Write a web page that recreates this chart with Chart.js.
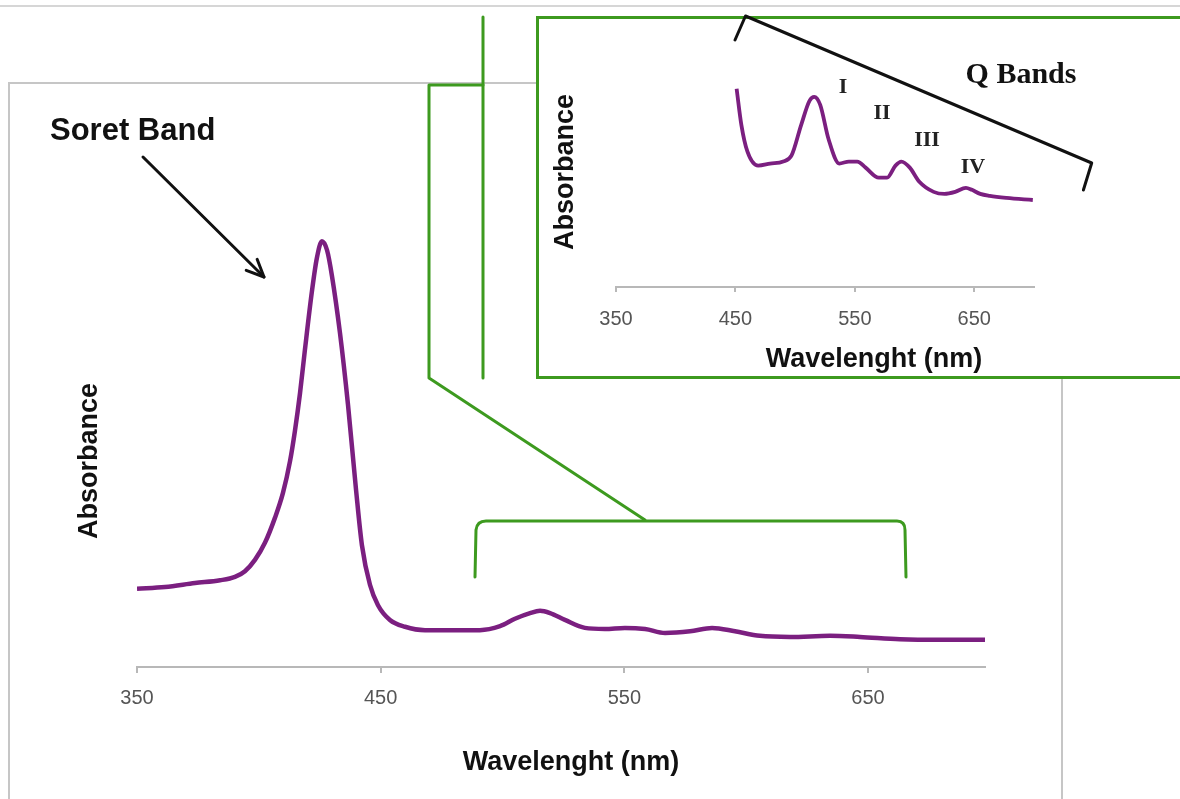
<!DOCTYPE html>
<html>
<head>
<meta charset="utf-8">
<script src="https://cdn.jsdelivr.net/npm/chart.js@4/dist/chart.umd.min.js"></script>
<style>
  html, body { margin: 0; padding: 0; background: #fff; overflow: hidden; }
  #wrap { position: relative; width: 1180px; height: 799px; }
  #main_chart { position: absolute; left: 0; top: 0; }
  #inset_chart { position: absolute; left: 530px; top: 6px; }
</style>
</head>
<body>
<div id="wrap">
  <canvas id="main_chart" width="1180" height="799"></canvas>
  <canvas id="inset_chart" width="650" height="384"></canvas>
</div>
<script>
// full spectrum (nm / absorbance)
const mainWavelength = [350, 361.5, 373.8, 384.1, 390.2, 394.3, 398.4, 402.5, 406.6, 409.9, 412.8, 414.8, 416.9, 418.9, 421.8, 423.8, 425.9, 428.0, 430.0, 433.3, 436.6, 439.9, 442.3, 445.6, 448.9, 453.8, 460, 468.2, 478.4, 490.7, 499, 505.1, 511.3, 515.4, 519.5, 525.6, 533.8, 542, 550.2, 558.5, 566.7, 577, 586, 595.4, 605.6, 618, 634.4, 646.7, 663.1, 679.5, 698];
const mainAbsorbance = [0.138, 0.141, 0.148, 0.153, 0.159, 0.169, 0.189, 0.219, 0.263, 0.307, 0.363, 0.416, 0.483, 0.559, 0.663, 0.721, 0.751, 0.735, 0.690, 0.589, 0.462, 0.312, 0.215, 0.145, 0.109, 0.083, 0.071, 0.065, 0.065, 0.065, 0.072, 0.085, 0.095, 0.099, 0.095, 0.083, 0.069, 0.067, 0.069, 0.067, 0.060, 0.063, 0.069, 0.063, 0.055, 0.053, 0.055, 0.053, 0.049, 0.048, 0.048];

// zoom on the Q bands
const insetWavelength = [451, 455, 460, 469, 479, 490, 497, 505, 512, 516, 521, 528, 537, 545, 552, 559, 570, 577, 584, 589, 596, 604, 616, 625, 634, 643, 648, 655, 663, 677, 699];
const insetAbsorbance = [0.103, 0.085, 0.072, 0.065, 0.066, 0.067, 0.070, 0.085, 0.097, 0.099, 0.095, 0.078, 0.066, 0.067, 0.067, 0.064, 0.059, 0.059, 0.065, 0.067, 0.064, 0.057, 0.052, 0.051, 0.052, 0.054, 0.053, 0.051, 0.050, 0.049, 0.048];

const xTicks = [350, 450, 550, 650];
const qBandLabels = ["I", "II", "III", "IV"];

const PURPLE = "#7b1f80";
const GREEN = "#3d9a1f";
const AXIS_GRAY = "#b8b8b8";
const SANS = "'Liberation Sans', Arial, sans-serif";
const SERIF = "'Liberation Serif', 'Times New Roman', serif";

function toPoints(xs, ys) {
  return xs.map((x, i) => ({ x, y: ys[i] }));
}

function xAxis(min, max, tickLength, padding, height) {
  return {
    type: "linear", min, max,
    afterBuildTicks: (s) => { s.ticks = xTicks.map((v) => ({ value: v })); },
    afterFit: (s) => { s.height = height; },
    grid: { display: true, drawOnChartArea: false, drawTicks: true, tickLength, color: AXIS_GRAY, lineWidth: 2 },
    border: { display: true, color: AXIS_GRAY, width: 2 },
    ticks: { color: "#555", font: { family: SANS, size: 20 }, padding, maxRotation: 0, autoSkip: false },
  };
}

function line(ctx, pts, color, width) {
  ctx.save();
  ctx.strokeStyle = color; ctx.lineWidth = width;
  ctx.lineJoin = "round"; ctx.lineCap = "round";
  ctx.beginPath();
  pts.forEach(([x, y], i) => (i ? ctx.lineTo(x, y) : ctx.moveTo(x, y)));
  ctx.stroke();
  ctx.restore();
}

function text(ctx, str, x, y, font, color, rot) {
  ctx.save();
  ctx.font = font; ctx.fillStyle = color || "#111";
  ctx.textAlign = "center"; ctx.textBaseline = "middle";
  ctx.translate(x, y);
  if (rot) ctx.rotate(rot);
  ctx.fillText(str, 0, 0);
  ctx.restore();
}

const mainDecor = {
  id: "mainDecor",
  beforeDraw(chart) {
    const ctx = chart.ctx;
    line(ctx, [[0, 6], [1180, 6]], "#d6d6d6", 2);
    ctx.save();
    ctx.strokeStyle = "#c6c6c6"; ctx.lineWidth = 2;
    ctx.strokeRect(9, 83, 1053, 800);
    ctx.restore();
  },
  afterDraw(chart) {
    const ctx = chart.ctx;
    // green connectors
    line(ctx, [[483, 17], [483, 378]], GREEN, 3);
    line(ctx, [[483, 85], [429, 85], [429, 378], [645, 520]], GREEN, 3);
    ctx.save();
    ctx.strokeStyle = GREEN; ctx.lineWidth = 3; ctx.lineCap = "round";
    ctx.beginPath();
    ctx.moveTo(475, 577);
    ctx.lineTo(476, 530);
    ctx.quadraticCurveTo(477, 521, 486, 521);
    ctx.lineTo(897, 521);
    ctx.quadraticCurveTo(905, 521, 905, 530);
    ctx.lineTo(906, 577);
    ctx.stroke();
    ctx.restore();

    // Soret band label + arrow
    ctx.save();
    ctx.font = "bold 31px " + SANS; ctx.fillStyle = "#111";
    ctx.textAlign = "left"; ctx.textBaseline = "middle";
    ctx.fillText("Soret Band", 50, 131);
    ctx.restore();
    const ax0 = 143, ay0 = 157, ax1 = 264, ay1 = 277;
    line(ctx, [[ax0, ay0], [ax1, ay1]], "#111", 3);
    const ang = Math.atan2(ay1 - ay0, ax1 - ax0), L = 19;
    line(ctx, [[ax1 - L * Math.cos(ang - 0.42), ay1 - L * Math.sin(ang - 0.42)], [ax1, ay1],
               [ax1 - L * Math.cos(ang + 0.42), ay1 - L * Math.sin(ang + 0.42)]], "#111", 3);

    text(ctx, "Absorbance", 90, 461, "bold 27px " + SANS, "#111", -Math.PI / 2);
    text(ctx, "Wavelenght (nm)", 571, 763, "bold 27px " + SANS, "#111");
  },
};

const insetDecor = {
  id: "insetDecor",
  beforeDraw(chart) {
    const ctx = chart.ctx;
    ctx.save();
    ctx.fillStyle = "#fff";
    ctx.fillRect(7.5, 11.5, 700, 360);
    ctx.strokeStyle = GREEN; ctx.lineWidth = 3;
    ctx.strokeRect(7.5, 11.5, 700, 360);
    ctx.restore();
  },
  afterDraw(chart) {
    const ctx = chart.ctx;
    line(ctx, [[205, 34], [215.5, 10], [561.7, 157], [553.4, 184]], "#111", 3);
    text(ctx, "Q Bands", 491, 69, "bold 30px " + SERIF, "#111");
    const pos = [[313, 81], [352, 107], [397, 134], [443, 161]];
    qBandLabels.forEach((s, i) => text(ctx, s, pos[i][0], pos[i][1], "bold 22px " + SERIF, "#222"));
    text(ctx, "Absorbance", 36, 166, "bold 27px " + SANS, "#111", -Math.PI / 2);
    text(ctx, "Wavelenght (nm)", 344, 354, "bold 27px " + SANS, "#111");
  },
};

Chart.defaults.animation = false;

new Chart(document.getElementById("main_chart"), {
  type: "line",
  data: {
    datasets: [{
      data: toPoints(mainWavelength, mainAbsorbance),
      borderColor: PURPLE, borderWidth: 4.5, pointRadius: 0,
      cubicInterpolationMode: "monotone", fill: false,
    }],
  },
  options: {
    responsive: false,
    layout: { padding: { left: 137, right: 195, top: 100, bottom: 82 } },
    plugins: { legend: { display: false }, tooltip: { enabled: false } },
    scales: {
      x: xAxis(350, 698, 6, 13, 50),
      y: { display: false, min: 0, max: 1 },
    },
  },
  plugins: [mainDecor],
});

new Chart(document.getElementById("inset_chart"), {
  type: "line",
  data: {
    datasets: [{
      data: toPoints(insetWavelength, insetAbsorbance),
      borderColor: PURPLE, borderWidth: 3.8, pointRadius: 0,
      cubicInterpolationMode: "monotone", fill: false,
    }],
  },
  options: {
    responsive: false,
    layout: { padding: { left: 86, right: 146, top: 24, bottom: 63 } },
    plugins: { legend: { display: false }, tooltip: { enabled: false } },
    scales: {
      x: xAxis(350, 700, 5, 15, 40),
      y: { display: false, min: 0.005, max: 0.132 },
    },
  },
  plugins: [insetDecor],
});
</script>
</body>
</html>
